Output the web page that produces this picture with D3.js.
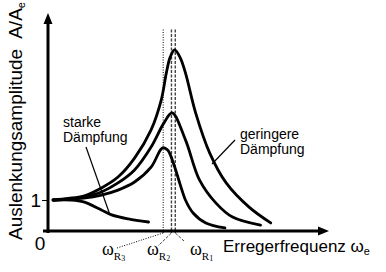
<!DOCTYPE html>
<html>
<head>
<meta charset="utf-8">
<script src="https://cdn.jsdelivr.net/npm/d3@7"></script>
<style>
  body { margin: 0; background: #fff; }
  text { font-family: "Liberation Sans", Arial, sans-serif; fill: #000; }
</style>
</head>
<body>
<div id="chart"></div>
<script>
// curves, [omega/omega0, A/Ae]
let weakDamping = [[0.04,1.0],[0.16,1.05],[0.28,1.13],[0.42,1.39],[0.55,1.74],[0.68,2.35],[0.81,3.26],[0.89,4.23],[0.93,5.1],[0.96,5.61],[0.995,5.84],[1.04,5.58],[1.08,5.1],[1.16,3.81],[1.27,2.52],[1.4,1.55],[1.58,0.77],[1.75,0.26]];
let midDamping = [[0.04,1.0],[0.16,1.03],[0.28,1.1],[0.42,1.26],[0.55,1.55],[0.68,1.97],[0.81,2.71],[0.91,3.48],[0.975,3.81],[1.08,2.94],[1.19,1.65],[1.32,0.9],[1.45,0.45],[1.67,0.19]];
let lowDamping = [[0.04,1.0],[0.16,1.02],[0.28,1.06],[0.42,1.16],[0.55,1.32],[0.68,1.58],[0.81,2.06],[0.9,2.68],[0.94,2.61],[0.99,2.13],[1.04,1.48],[1.08,1.0],[1.14,0.58],[1.24,0.26],[1.39,0.1]];
let strongDamping = [[0.04,1.0],[0.18,1.0],[0.28,0.94],[0.42,0.68],[0.5,0.52],[0.63,0.39],[0.79,0.29]];

let resNames = ['1', '2', '3'];
let resFreq = [1.0, 0.97, 0.905];
let yTicks = [1];

let width = 386, height = 272;
let svg = d3.select('#chart').append('svg')
  .attr('width', width)
  .attr('height', height);

let x = d3.scaleLinear().domain([0, 2.2]).range([48, 328]);
let y = d3.scaleLinear().domain([0, 7]).range([231, 14]);

// resonance lines
let resStyle = [
  { dash: '3,1.5', w: 1.4, c: '#444', lx: 184, ly: 241, tx: 190 },
  { dash: '3,1.5', w: 1.4, c: '#444', lx: 158, ly: 246, tx: 147 },
  { dash: '1,1.5', w: 1, c: '#000', lx: 117, ly: 248, tx: 102 }
];
resFreq.forEach(function (f, i) {
  let s = resStyle[i];
  svg.append('line')
    .attr('x1', x(f)).attr('x2', x(f))
    .attr('y1', y(6.5)).attr('y2', y(0) + 2)
    .attr('stroke', s.c).attr('stroke-width', s.w)
    .attr('stroke-dasharray', s.dash);
  svg.append('line')
    .attr('x1', x(f)).attr('y1', y(0) + 2)
    .attr('x2', s.lx).attr('y2', s.ly)
    .attr('stroke', s.c).attr('stroke-width', 1)
    .attr('stroke-dasharray', s.dash);
  let t = svg.append('text')
    .attr('x', s.tx).attr('y', 255)
    .style('font-family', '"Liberation Serif", "Times New Roman", serif')
    .style('font-size', '18px');
  t.append('tspan').text('\u03c9');
  t.append('tspan').attr('dy', 5).style('font-size', '11px').text('R');
  t.append('tspan').attr('dy', 1).style('font-size', '8px').text(resNames[i]);
});

// axes
svg.append('line')
  .attr('x1', x(0) - 5).attr('x2', 318)
  .attr('y1', y(0)).attr('y2', y(0))
  .attr('stroke', '#000').attr('stroke-width', 3);
svg.append('path')
  .attr('d', 'M318,' + (y(0) - 4.5) + 'L329,' + y(0) + 'L318,' + (y(0) + 4.5) + 'Z');
svg.append('line')
  .attr('x1', x(0)).attr('x2', x(0))
  .attr('y1', y(0) + 2).attr('y2', 24)
  .attr('stroke', '#000').attr('stroke-width', 3);
svg.append('path')
  .attr('d', 'M' + (x(0) - 4.5) + ',24L' + x(0) + ',13L' + (x(0) + 4.5) + ',24Z');

let yAxis = svg.append('g')
  .attr('transform', 'translate(' + x(0) + ',0)')
  .call(d3.axisLeft(y).tickValues(yTicks).tickSize(6).tickPadding(1).tickFormat(d3.format('d')));
yAxis.select('.domain').remove();
yAxis.selectAll('line').attr('stroke', '#000').attr('stroke-width', 1);
yAxis.selectAll('text').style('font-size', '19px').attr('font-family', null).attr('dy', '0.36em');

svg.append('text').attr('x', 40).attr('y', 250)
  .attr('text-anchor', 'middle').style('font-size', '19px').text('0');

// curves
let line = d3.line()
  .x(function (d) { return x(d[0]); })
  .y(function (d) { return y(d[1]); })
  .curve(d3.curveCatmullRom.alpha(0.5));

[weakDamping, midDamping, lowDamping, strongDamping].forEach(function (c) {
  svg.append('path')
    .attr('d', line(c))
    .attr('fill', 'none')
    .attr('stroke', '#000')
    .attr('stroke-width', 2.8)
    .attr('stroke-linecap', 'round');
});

// annotations
svg.append('line').attr('x1', 86).attr('y1', 147).attr('x2', 110).attr('y2', 215)
  .attr('stroke', '#000').attr('stroke-width', 1.2);
svg.append('line').attr('x1', 235).attr('y1', 140).attr('x2', 212).attr('y2', 164)
  .attr('stroke', '#000').attr('stroke-width', 1.2);

svg.append('text').attr('x', 63).attr('y', 127).style('font-size', '14px').text('starke');
svg.append('text').attr('x', 63).attr('y', 142).style('font-size', '14px').text('Dämpfung');
svg.append('text').attr('x', 240).attr('y', 139).style('font-size', '14px').text('geringere');
svg.append('text').attr('x', 240).attr('y', 154).style('font-size', '14px').text('Dämpfung');

// axis titles
let xt = svg.append('text').attr('x', 223).attr('y', 252).style('font-size', '17px');
xt.append('tspan').text('Erregerfrequenz \u03c9');
xt.append('tspan').attr('dy', 3).style('font-size', '11px').text('e');

let yt = svg.append('text')
  .attr('transform', 'translate(22,240) rotate(-90)')
  .style('font-size', '19px');
yt.append('tspan').text('Auslenkungsamplitude');
yt.append('tspan').attr('dx', 10).text('A/A');
yt.append('tspan').attr('dy', 3).style('font-size', '11px').text('e');
</script>
</body>
</html>
